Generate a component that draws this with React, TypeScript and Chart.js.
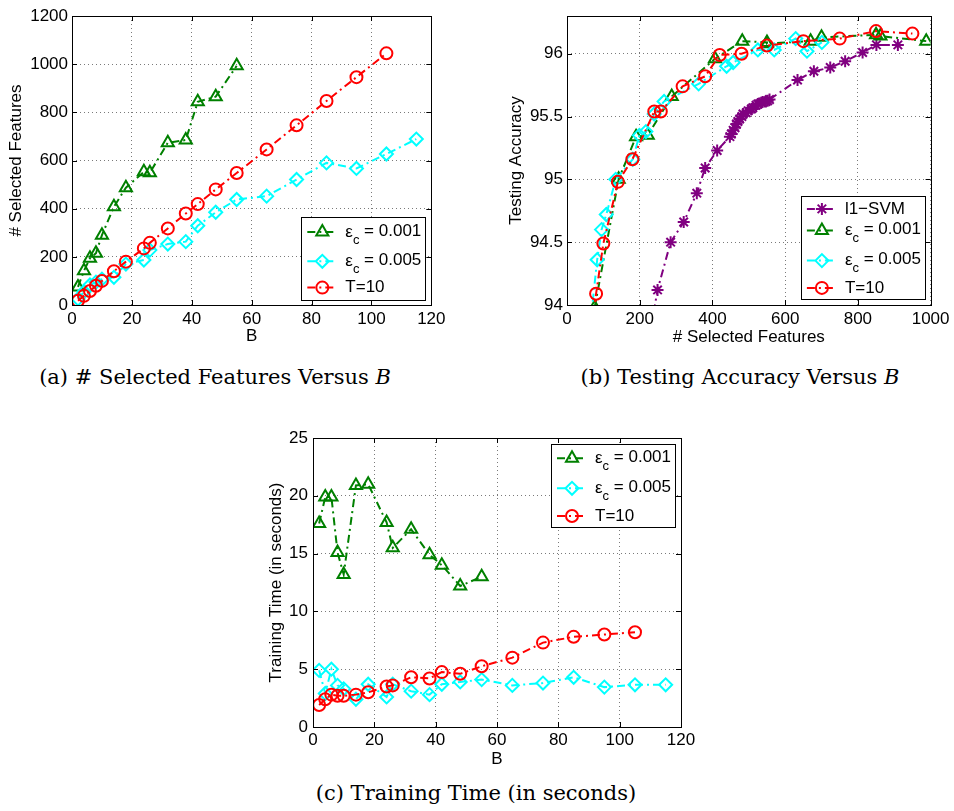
import React, { useEffect, useRef } from "react";
import { Chart, registerables } from "chart.js";
import { drawPoint } from "chart.js/helpers";

Chart.register(...registerables);
Chart.defaults.font.family = '"Liberation Sans", Arial, Helvetica, sans-serif';
Chart.defaults.font.size = 17;
Chart.defaults.color = "#000";

// ---------- (a) # selected features versus B ----------
const bG = [2, 4, 6, 8, 10, 14, 18, 24, 26, 32, 38, 42, 48, 55];
const bC = [2, 4, 6, 8, 10, 14, 18, 24, 26, 32, 38, 42, 48, 55, 65, 75, 85, 95, 105, 115];
const bR = [2, 4, 6, 8, 10, 14, 18, 24, 26, 32, 38, 42, 48, 55, 65, 75, 85, 95, 105];

const featG = [75, 142, 194, 215, 290, 408, 487, 553, 549, 674, 685, 844, 865, 993];
const featC = [25, 55, 83, 95, 107, 115, 170, 187, 228, 253, 263, 329, 385, 438, 452, 521, 590, 567, 627, 689];
const featR = [18, 38, 58, 80, 100, 140, 180, 235, 258, 318, 380, 419, 480, 548, 646, 746, 847, 946, 1045];

// ---------- (b) testing accuracy versus # selected features ----------
const svmX = [230, 249, 285, 321, 357, 380, 413, 448, 452, 457, 462, 466, 470, 475, 481, 484, 493, 498, 507, 511, 520, 525, 534, 538, 547, 552, 557, 634, 679, 724, 765, 813, 851, 910];
const svmY = [93.8, 94.12, 94.5, 94.66, 94.89, 95.09, 95.23, 95.34, 95.36, 95.39, 95.41, 95.44, 95.46, 95.48, 95.5, 95.52, 95.53, 95.545, 95.56, 95.57, 95.59, 95.6, 95.61, 95.615, 95.62, 95.625, 95.635, 95.79, 95.86, 95.89, 95.94, 96.01, 96.07, 96.07];
const accGX = [76, 142, 190, 222, 288, 407, 482, 550, 550, 670, 700, 850, 862, 988];
const accGY = [93.98, 95.0, 95.34, 95.35, 95.66, 95.96, 96.1, 96.09, 96.08, 96.1, 96.13, 96.15, 96.14, 96.1];
const accCX = [55, 83, 95, 108, 134, 181, 199, 217, 240, 267, 362, 439, 457, 525, 570, 629, 660, 701];
const accCY = [93.6, 94.36, 94.6, 94.72, 95.0, 95.16, 95.35, 95.38, 95.52, 95.62, 95.76, 95.9, 95.93, 96.03, 96.03, 96.12, 96.02, 96.09];
const accRX = [60, 80, 100, 140, 180, 240, 258, 318, 380, 420, 480, 550, 650, 750, 850, 950];
const accRY = [93.5, 94.09, 94.49, 94.98, 95.16, 95.54, 95.54, 95.74, 95.82, 95.99, 96.0, 96.065, 96.1, 96.12, 96.18, 96.16];

// ---------- (c) training time versus B ----------
const timeG = [17.6, 19.9, 19.9, 15.1, 13.2, 20.9, 21.0, 17.7, 15.5, 17.1, 14.9, 14.0, 12.2, 13.0];
const timeC = [4.9, 2.9, 5.0, 3.6, 3.3, 2.4, 3.7, 2.6, 3.7, 3.1, 2.8, 3.7, 3.9, 4.1, 3.6, 3.8, 4.3, 3.45, 3.65, 3.65];
const timeR = [1.9, 2.4, 2.8, 2.7, 2.7, 2.8, 3.0, 3.5, 3.6, 4.3, 4.2, 4.75, 4.6, 5.25, 6.0, 7.3, 7.8, 8.0, 8.2];

const GREEN = "#008000";
const CYAN = "#00ffff";
const RED = "#ff0000";
const PURPLE = "#800080";
const DASH = [8, 4, 2, 4];

const zip = (xs: number[], ys: number[]) => xs.map((x, i) => ({ x, y: ys[i] }));

function series(label: string, color: string, style: string, radius: number, data: any[], order: number) {
  return {
    label,
    data,
    borderColor: color,
    backgroundColor: "rgba(0,0,0,0)",
    borderWidth: 2,
    borderDash: DASH,
    pointStyle: style,
    pointRadius: radius,
    pointHoverRadius: radius,
    pointBorderWidth: 2,
    pointBorderColor: color,
    pointBackgroundColor: "rgba(0,0,0,0)",
    tension: 0,
    fill: false,
    order,
  };
}

const matlabPlugin = {
  id: "matlab",
  afterDraw(chart: any, _args: any, opts: any) {
    const ctx = chart.ctx;
    const { left, right, top, bottom } = chart.chartArea;
    const xs = chart.scales.x;
    const ys = chart.scales.y;
    ctx.save();
    ctx.setLineDash([]);
    ctx.strokeStyle = "#000";
    ctx.lineWidth = 1;
    const TL = 5;
    ctx.beginPath();
    xs.ticks.forEach((t: any) => {
      const p = Math.round(xs.getPixelForValue(t.value)) + 0.5;
      if (p <= left + 1 || p >= right - 1) return;
      ctx.moveTo(p, bottom);
      ctx.lineTo(p, bottom - TL);
      ctx.moveTo(p, top);
      ctx.lineTo(p, top + TL);
    });
    ys.ticks.forEach((t: any) => {
      const p = Math.round(ys.getPixelForValue(t.value)) + 0.5;
      if (p <= top + 1 || p >= bottom - 1) return;
      ctx.moveTo(left, p);
      ctx.lineTo(left + TL, p);
      ctx.moveTo(right, p);
      ctx.lineTo(right - TL, p);
    });
    ctx.stroke();
    ctx.strokeRect(Math.round(left) + 0.5, Math.round(top) + 0.5, Math.round(right - left), Math.round(bottom - top));

    // legend inside axes
    const lg = opts && opts.legend;
    if (lg) {
      const bx = right - lg.insetRight - lg.w;
      const by = lg.anchor === "bottom" ? bottom - lg.insetBottom - lg.h : top + lg.insetTop;
      ctx.fillStyle = "#fff";
      ctx.fillRect(bx, by, lg.w, lg.h);
      ctx.strokeStyle = "#000";
      ctx.lineWidth = 1;
      ctx.strokeRect(Math.round(bx) + 0.5, Math.round(by) + 0.5, Math.round(lg.w), Math.round(lg.h));
      lg.items.forEach((it: any, i: number) => {
        const ds = chart.data.datasets[it.ds];
        const y = by + lg.rows[i];
        ctx.save();
        ctx.strokeStyle = ds.borderColor;
        ctx.lineWidth = ds.borderWidth;
        ctx.setLineDash(ds.borderDash);
        ctx.beginPath();
        ctx.moveTo(bx + 6, y);
        ctx.lineTo(bx + 36, y);
        ctx.stroke();
        ctx.setLineDash([]);
        ctx.fillStyle = "rgba(0,0,0,0)";
        ctx.strokeStyle = ds.borderColor;
        ctx.lineWidth = ds.pointBorderWidth;
        drawPoint(ctx, { pointStyle: ds.pointStyle, radius: ds.pointRadius, borderWidth: ds.pointBorderWidth, rotation: 0 }, bx + 21, y);
        ctx.restore();
        ctx.fillStyle = "#000";
        ctx.textBaseline = "middle";
        ctx.textAlign = "left";
        let tx = bx + 44;
        const main = '17px "Liberation Sans", Arial, sans-serif';
        const small = '13px "Liberation Sans", Arial, sans-serif';
        if (it.sub) {
          ctx.font = main;
          ctx.fillText(it.pre, tx, y);
          tx += ctx.measureText(it.pre).width;
          ctx.font = small;
          ctx.fillText(it.sub, tx, y + 8);
          tx += ctx.measureText(it.sub).width;
          ctx.font = main;
          ctx.fillText(it.post, tx, y - 1);
        } else {
          ctx.font = main;
          ctx.fillText(it.pre, tx, y);
        }
      });
    }
    ctx.restore();
  },
};

type Cfg = {
  cx: number; cy: number; cw: number; ch: number;
  L: number; T: number; R: number; B: number;
  xmin: number; xmax: number; xstep: number;
  ymin: number; ymax: number; ystep: number;
  xtitle: string; ytitle: string;
  xtPad: number; ytPad: number; xTickPad: number; yTickPad: number;
  datasets: any[];
  legend: any;
};

function Panel({ cfg }: { cfg: Cfg }) {
  const ref = useRef<HTMLCanvasElement | null>(null);
  useEffect(() => {
    if (!ref.current) return;
    const c = cfg;
    const chart = new Chart(ref.current, {
      type: "line",
      data: { datasets: c.datasets },
      plugins: [matlabPlugin],
      options: {
        animation: false,
        responsive: false,
        devicePixelRatio: 1,
        events: [],
        layout: { padding: { left: 0, top: c.T - c.cy, right: c.cx + c.cw - c.R, bottom: 0 } },
        plugins: {
          legend: { display: false },
          tooltip: { enabled: false },
          matlab: { legend: c.legend },
        } as any,
        scales: {
          x: {
            type: "linear",
            min: c.xmin,
            max: c.xmax,
            afterFit: (s: any) => { s.height = c.cy + c.ch - c.B; },
            ticks: { stepSize: c.xstep, padding: c.xTickPad, maxRotation: 0, autoSkip: false, includeBounds: false, callback: (v: any) => String(v) },
            grid: { color: "#7a7a7a", lineWidth: 1, drawTicks: false },
            border: { display: false, dash: [1, 3] },
            title: { display: true, text: c.xtitle, padding: { top: 0, bottom: c.xtPad } },
          },
          y: {
            type: "linear",
            min: c.ymin,
            max: c.ymax,
            afterFit: (s: any) => { s.width = c.L - c.cx; },
            ticks: { stepSize: c.ystep, padding: c.yTickPad, autoSkip: false, includeBounds: false, callback: (v: any) => String(v) },
            grid: { color: "#7a7a7a", lineWidth: 1, drawTicks: false },
            border: { display: false, dash: [1, 3] },
            title: { display: true, text: c.ytitle, padding: { top: c.ytPad, bottom: 0 } },
          },
        },
      } as any,
    });
    return () => chart.destroy();
  }, [cfg]);
  return (
    <canvas
      ref={ref}
      width={cfg.cw}
      height={cfg.ch}
      style={{ position: "absolute", left: cfg.cx, top: cfg.cy, width: cfg.cw, height: cfg.ch }}
    />
  );
}

const eps = (v: string, ds: number) => ({ ds, pre: "\u03b5", sub: "c", post: " = " + v });

const cfgA: Cfg = {
  cx: 0, cy: 0, cw: 450, ch: 350,
  L: 72, T: 16, R: 436, B: 305,
  xmin: 0, xmax: 120, xstep: 20,
  ymin: 0, ymax: 1200, ystep: 200,
  xtitle: "B", ytitle: "# Selected Features",
  xtPad: 3.8, ytPad: 6.3, xTickPad: 4.5, yTickPad: 4,
  datasets: [
    series("\u03b5c = 0.001", GREEN, "triangle", 7, zip(bG, featG), 2),
    series("\u03b5c = 0.005", CYAN, "rectRot", 6.5, zip(bC, featC), 1),
    series("T=10", RED, "circle", 6, zip(bR, featR), 0),
  ],
  legend: {
    anchor: "bottom", insetRight: 6, insetBottom: 5, w: 124, h: 83,
    rows: [15, 44.3, 70.6],
    items: [eps("0.001", 0), eps("0.005", 1), { ds: 2, pre: "T=10" }],
  },
};

const cfgB: Cfg = {
  cx: 490, cy: 0, cw: 464, ch: 350,
  L: 567, T: 16, R: 935, B: 305,
  xmin: 0, xmax: 1000, xstep: 200,
  ymin: 94, ymax: 96.3, ystep: 0.5,
  xtitle: "# Selected Features", ytitle: "Testing Accuracy",
  xtPad: 2.8, ytPad: 15.8, xTickPad: 4.5, yTickPad: 4,
  datasets: [
    series("l1-SVM", PURPLE, "star", 6, zip(svmX, svmY), 3),
    series("\u03b5c = 0.001", GREEN, "triangle", 7, zip(accGX, accGY), 2),
    series("\u03b5c = 0.005", CYAN, "rectRot", 6.5, zip(accCX, accCY), 1),
    series("T=10", RED, "circle", 6, zip(accRX, accRY), 0),
  ],
  legend: {
    anchor: "bottom", insetRight: 5.7, insetBottom: 5.7, w: 124, h: 103,
    rows: [12.6, 34.3, 64.3, 91.6],
    items: [{ ds: 0, pre: "l1\u2212SVM" }, eps("0.001", 1), eps("0.005", 2), { ds: 3, pre: "T=10" }],
  },
};

const cfgC: Cfg = {
  cx: 250, cy: 420, cw: 450, ch: 360,
  L: 313, T: 438, R: 681, B: 727,
  xmin: 0, xmax: 120, xstep: 20,
  ymin: 0, ymax: 25, ystep: 5,
  xtitle: "B", ytitle: "Training Time (in seconds)",
  xtPad: 10.8, ytPad: 15.8, xTickPad: 3.5, yTickPad: 5,
  datasets: [
    series("\u03b5c = 0.001", GREEN, "triangle", 7, zip(bG, timeG), 2),
    series("\u03b5c = 0.005", CYAN, "rectRot", 6.5, zip(bC, timeC), 1),
    series("T=10", RED, "circle", 6, zip(bR, timeR), 0),
  ],
  legend: {
    anchor: "top", insetRight: 6, insetTop: 6, w: 124, h: 83.3,
    rows: [14.3, 44.3, 72],
    items: [eps("0.001", 0), eps("0.005", 1), { ds: 2, pre: "T=10" }],
  },
};

const capStyle = (left: number, width: number, top: number): React.CSSProperties => ({
  position: "absolute",
  left,
  width,
  top,
  textAlign: "center",
  fontFamily: '"DejaVu Serif", "Liberation Serif", serif',
  fontSize: 21,
  lineHeight: "24px",
  color: "#000",
  whiteSpace: "nowrap",
});

export default function App() {
  return (
    <div style={{ position: "absolute", left: 0, top: 0, width: 954, height: 811, background: "#fff", overflow: "hidden" }}>
      <Panel cfg={cfgA} />
      <Panel cfg={cfgB} />
      <Panel cfg={cfgC} />
      <div style={capStyle(0, 430, 365)}>(a) # Selected Features Versus <i>B</i></div>
      <div style={capStyle(540, 400, 365)}>(b) Testing Accuracy Versus <i>B</i></div>
      <div style={capStyle(276, 400, 781)}>(c) Training Time (in seconds)</div>
    </div>
  );
}
